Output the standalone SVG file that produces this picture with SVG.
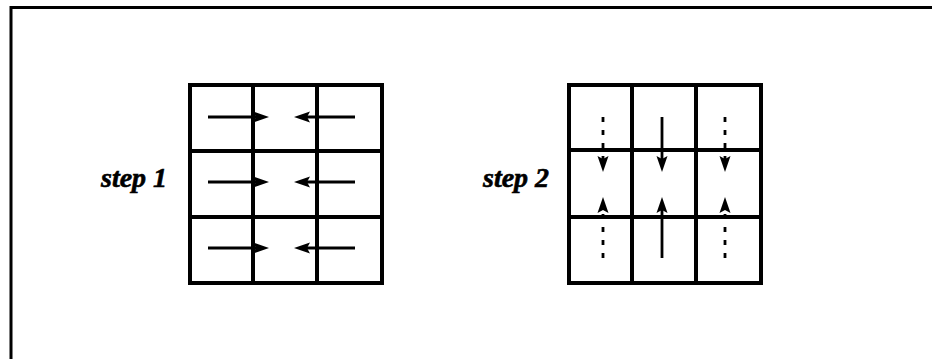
<svg xmlns="http://www.w3.org/2000/svg" width="932" height="359" viewBox="0 0 932 359">
<style>
.frame{stroke:#000;stroke-width:3;fill:none}
.grid{stroke:#000;stroke-width:4;fill:#fff}
.arr{stroke:#000;stroke-width:2.8;fill:none;marker-end:url(#ah)}
.dash{stroke-dasharray:5 8}
.lbl{font-family:"Liberation Serif","Times New Roman",serif;font-weight:bold;font-style:italic;font-size:28px;fill:#000;stroke:#000;stroke-width:0.6}
</style>
<defs>
<marker id="ah" markerUnits="userSpaceOnUse" markerWidth="17" markerHeight="14" viewBox="0 0 17 14" refX="8" refY="7" orient="auto">
<path d="M0,1.5 L16,7 L0,12.5 L3,7 Z" fill="#000"/>
</marker>
</defs>
<rect width="932" height="359" fill="#fff"/>
<g id="frame">
<path class="frame" d="M11,359 V7.5 H932"/>
</g>
<g id="step1">
<text class="lbl" x="101" y="187">step 1</text>
<rect class="grid" x="190" y="85" width="192" height="198"/>
<path class="grid" d="M253,85 V283 M317,85 V283 M190,151 H382 M190,217 H382" fill="none"/>
</g>
<g id="step2">
<text class="lbl" x="483" y="187">step 2</text>
<rect class="grid" x="569" y="85" width="192" height="198"/>
<path class="grid" d="M632,85 V283 M696,85 V283 M569,150 H761 M569,217 H761" fill="none"/>
</g>
<g id="connectors">
<path class="arr" d="M208,117 H261"/>
<path class="arr" d="M208,182 H261"/>
<path class="arr" d="M208,248 H261"/>
<path class="arr" d="M355,117 H302"/>
<path class="arr" d="M355,182 H302"/>
<path class="arr" d="M355,248 H302"/>
<path class="arr" d="M662,117 V164"/>
<path class="arr" d="M662,258 V205"/>
<path class="arr dash" d="M603,117 V164"/>
<path class="arr dash" d="M603,258 V205"/>
<path class="arr dash" d="M725,117 V164"/>
<path class="arr dash" d="M725,258 V205"/>
</g>
</svg>
